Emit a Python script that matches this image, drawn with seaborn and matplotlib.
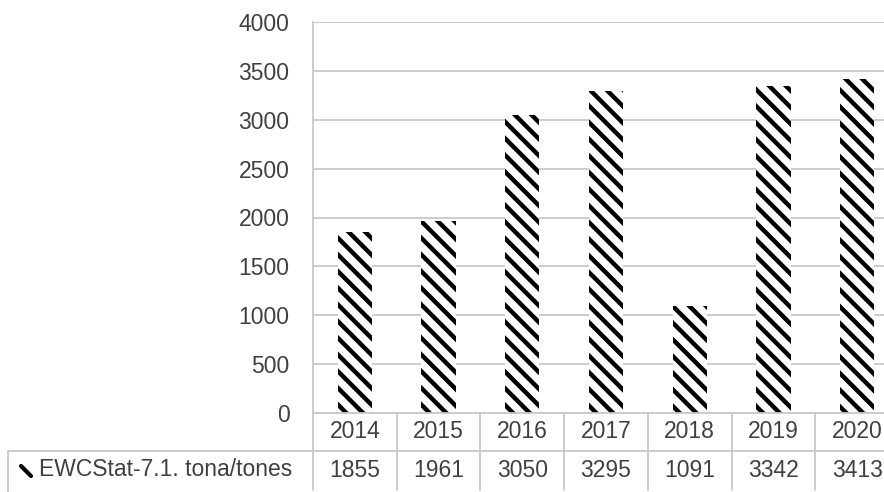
import matplotlib
matplotlib.use("Agg")
import matplotlib.pyplot as plt
import matplotlib.lines as mlines
import seaborn as sns
import pandas as pd

# chart data
years = ["2014", "2015", "2016", "2017", "2018", "2019", "2020"]
tonnes = [1855, 1961, 3050, 3295, 1091, 3342, 3413]
series_label = "EWCStat-7.1. tona/tones"
y_ticks = [0, 500, 1000, 1500, 2000, 2500, 3000, 3500, 4000]

sns.set_theme(style="white")
plt.rcParams["font.family"] = ["Liberation Sans Narrow", "Liberation Sans", "DejaVu Sans"]
plt.rcParams["hatch.linewidth"] = 3.2

TEXT = "#404040"
GRID = "#c8c8c8"
FS = 16.5

df = pd.DataFrame({"year": years, "value": tonnes})

fig = plt.figure(figsize=(8.84, 4.92), dpi=100)
ax = fig.add_axes([313 / 884, 79 / 492, 586 / 884, 391 / 492])

sns.barplot(data=df, x="year", y="value", ax=ax, color="white",
            edgecolor="black", linewidth=0, width=0.41, hatch="\\\\")

ax.set_ylim(0, 4000)
ax.set_xlim(-0.5, 6.5)
ax.set_yticks(y_ticks)
ax.set_yticklabels([str(t) for t in y_ticks], fontsize=FS, color=TEXT)
ax.tick_params(axis="y", length=0, pad=17)
ax.set_xticks([])
ax.set_xlabel("")
ax.set_ylabel("")
ax.grid(axis="y", color=GRID, linewidth=1.3)
ax.set_axisbelow(True)
for side in ["top", "right", "bottom"]:
    ax.spines[side].set_visible(False)
ax.spines["left"].set_color(GRID)
ax.spines["left"].set_linewidth(1.3)

# data table below the plot
tr = ax.get_xaxis_transform()
row1 = -38 / 391
row2 = -77 / 391
ax.plot([-0.5, 6.5], [0, 0], transform=tr, color=GRID, lw=1.3, clip_on=False)
for i in range(len(years) + 1):
    ax.plot([i - 0.5, i - 0.5], [0, row2], transform=tr, color=GRID,
            lw=1.3, clip_on=False)
ax.plot([-0.5, 6.5], [row1, row1], transform=tr, color=GRID, lw=1.3, clip_on=False)
for i, (yr, v) in enumerate(zip(years, tonnes)):
    ax.text(i, row1 / 2, yr, transform=tr, ha="center", va="center",
            fontsize=FS, color=TEXT)
    ax.text(i, (row1 + row2) / 2, str(v), transform=tr, ha="center",
            va="center", fontsize=FS, color=TEXT)

# row header cell
y_top = 1 - 451 / 492
fig.add_artist(mlines.Line2D([8 / 884, 313 / 884], [y_top, y_top],
                             color=GRID, lw=1.3))
fig.add_artist(mlines.Line2D([8 / 884, 8 / 884], [y_top, 0],
                             color=GRID, lw=1.3))
fig.add_artist(mlines.Line2D([21 / 884, 31 / 884], [1 - 466 / 492, 1 - 476 / 492],
                             color="black", lw=3))
fig.text(39 / 884, 1 - 470 / 492, series_label, ha="left", va="center",
         fontsize=FS, color=TEXT)

plt.savefig("out.png", dpi=100)
plt.close()
